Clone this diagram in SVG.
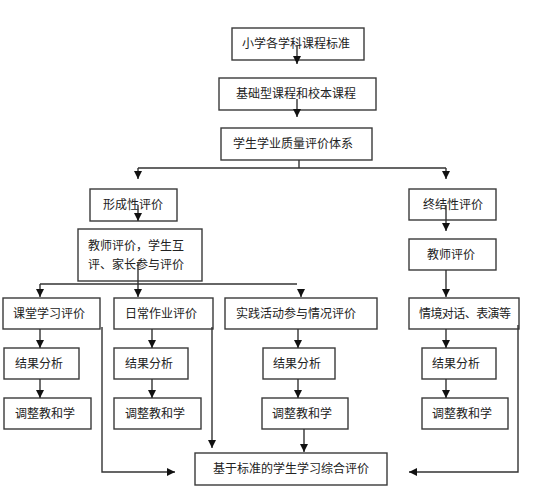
<svg xmlns="http://www.w3.org/2000/svg" width="534" height="499" viewBox="0 0 534 499">
<style>
.n rect{fill:#fff;stroke:#3a3a3a;stroke-width:1.4}
text{font-family:"Noto Sans CJK SC","Liberation Sans",sans-serif;font-size:12px;fill:#222}
.c path{fill:none;stroke:#333;stroke-width:1.4}
</style>
<defs>
<marker id="a" viewBox="0 0 8 8" refX="8" refY="4" markerWidth="8" markerHeight="8" markerUnits="userSpaceOnUse" orient="auto">
<path d="M0,0 L8,4 L0,8 Z" fill="#111"/>
</marker>
</defs>
<g class="n">
<g id="n1"><rect x="232" y="28" width="132" height="32"/><text x="242" y="48">小学各学科课程标准</text></g>
<g id="n2"><rect x="219" y="78" width="157" height="32"/><text x="236" y="98">基础型课程和校本课程</text></g>
<g id="n3"><rect x="221" y="128" width="151" height="32"/><text x="233" y="148">学生学业质量评价体系</text></g>
<g id="n4"><rect x="90" y="189" width="87" height="32"/><text x="103" y="209">形成性评价</text></g>
<g id="n5"><rect x="78" y="229" width="124" height="52"/><text x="88" y="250">教师评价，学生互</text><text x="88" y="269">评、家长参与评价</text></g>
<g id="n6"><rect x="409" y="189" width="87" height="31"/><text x="423" y="209">终结性评价</text></g>
<g id="n7"><rect x="409" y="239" width="87" height="31"/><text x="427" y="259">教师评价</text></g>
<g id="n8"><rect x="3" y="298" width="97" height="31"/><text x="13" y="318">课堂学习评价</text></g>
<g id="n9"><rect x="114" y="298" width="99" height="31"/><text x="125" y="318">日常作业评价</text></g>
<g id="n10"><rect x="225" y="298" width="152" height="31"/><text x="236" y="318">实践活动参与情况评价</text></g>
<g id="n11"><rect x="409" y="298" width="110" height="31"/><text x="419" y="318" textLength="92">情境对话、表演等</text></g>
<g id="n12"><rect x="4" y="348" width="75" height="31"/><text x="15" y="368">结果分析</text></g>
<g id="n13"><rect x="114" y="348" width="74" height="31"/><text x="125" y="368">结果分析</text></g>
<g id="n14"><rect x="263" y="348" width="72" height="31"/><text x="273" y="368">结果分析</text></g>
<g id="n15"><rect x="422" y="348" width="74" height="31"/><text x="432" y="368">结果分析</text></g>
<g id="n16"><rect x="4" y="398" width="87" height="31"/><text x="15" y="418">调整教和学</text></g>
<g id="n17"><rect x="114" y="398" width="87" height="31"/><text x="125" y="418">调整教和学</text></g>
<g id="n18"><rect x="262" y="398" width="86" height="31"/><text x="272" y="418">调整教和学</text></g>
<g id="n19"><rect x="422" y="398" width="86" height="31"/><text x="432" y="418">调整教和学</text></g>
<g id="n20"><rect x="195" y="453" width="192" height="32"/><text x="213" y="473">基于标准的学生学习综合评价</text></g>
</g>
<g class="c" id="connectors">
<path d="M297,46 V64" marker-end="url(#a)"/>
<path d="M297,99 V117" marker-end="url(#a)"/>
<path d="M299,160 V168 M138,168 H446"/>
<path d="M138,168 V179" marker-end="url(#a)"/>
<path d="M446,168 V179" marker-end="url(#a)"/>
<path d="M138,205 V221" marker-end="url(#a)"/>
<path d="M446,205 V231" marker-end="url(#a)"/>
<path d="M138,262 V297" marker-end="url(#a)"/>
<path d="M40,284 H297"/>
<path d="M40,284 V297" marker-end="url(#a)"/>
<path d="M301,289 V297" marker-end="url(#a)"/>
<path d="M446,270 V297" marker-end="url(#a)"/>
<path d="M40,329 V348" marker-end="url(#a)"/>
<path d="M40,379 V398" marker-end="url(#a)"/>
<path d="M152,329 V348" marker-end="url(#a)"/>
<path d="M152,379 V398" marker-end="url(#a)"/>
<path d="M298,329 V348" marker-end="url(#a)"/>
<path d="M298,379 V398" marker-end="url(#a)"/>
<path d="M446,329 V348" marker-end="url(#a)"/>
<path d="M446,379 V398" marker-end="url(#a)"/>
<path d="M304,429 V452" marker-end="url(#a)"/>
<path d="M212,327 V448" marker-end="url(#a)"/>
<path d="M102,327 V472 H175" marker-end="url(#a)"/>
<path d="M518,325 V472 H409" marker-end="url(#a)"/>
</g>
</svg>
